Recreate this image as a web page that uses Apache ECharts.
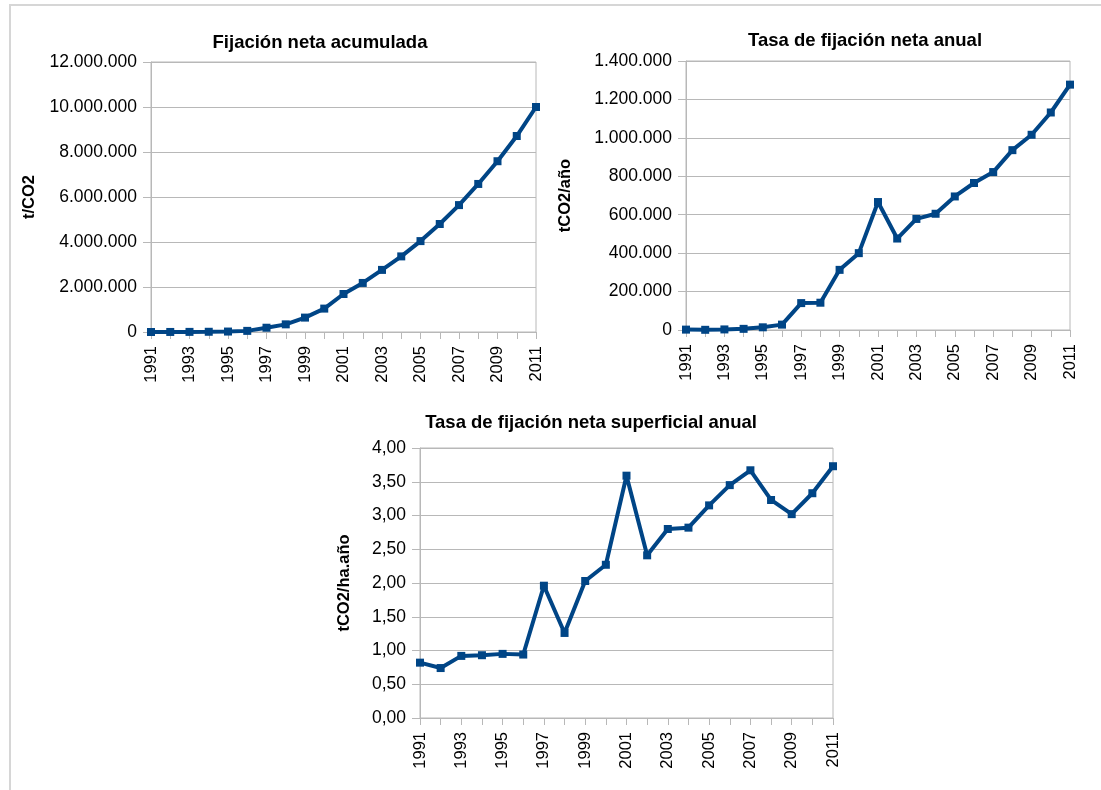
<!DOCTYPE html>
<html>
<head>
<meta charset="utf-8">
<script src="https://cdn.jsdelivr.net/npm/echarts@6/dist/echarts.min.js"></script>
<style>
  html, body { margin: 0; padding: 0; background: #fff; }
  #main { width: 1101px; height: 790px; }
</style>
</head>
<body>
<div id="main"></div>
<script>
// años
let years = ['1991', '1992', '1993', '1994', '1995', '1996', '1997', '1998', '1999', '2000',
    '2001', '2002', '2003', '2004', '2005', '2006', '2007', '2008', '2009', '2010', '2011'];

// t/CO2 acumulado
let acumulada = [0, 2000, 5000, 10000, 20000, 50000, 190000, 340000, 640000, 1040000,
    1690000, 2180000, 2760000, 3360000, 4040000, 4800000, 5640000, 6580000, 7590000, 8710000, 10000000];

// tCO2/año
let anual = [2000, 1000, 3000, 6000, 14000, 28000, 140000, 142000, 313000, 400000,
    666000, 476000, 578000, 605000, 695000, 765000, 822000, 936000, 1016000, 1132000, 1277000];

// tCO2/ha.año
let superficial = [0.82, 0.74, 0.92, 0.93, 0.95, 0.94, 1.96, 1.26, 2.03, 2.27,
    3.59, 2.41, 2.80, 2.82, 3.15, 3.45, 3.67, 3.23, 3.02, 3.33, 3.73];

let titles = ['Fijación neta acumulada', 'Tasa de fijación neta anual', 'Tasa de fijación neta superficial anual'];
let axisNames = ['t/CO2', 'tCO2/año', 'tCO2/ha.año'];

const FONT = '"Liberation Sans", Arial, sans-serif';
const BLUE = '#004586';
const GRID_COLOR = '#b8b8b8';

function miles(v) {
    return String(Math.round(v)).replace(/\B(?=(\d{3})+(?!\d))/g, '.');
}

function decimal(v) {
    return v.toFixed(2).replace('.', ',');
}

let grids = [
    { left: 151, top: 62, width: 385, height: 270 },
    { left: 686, top: 61, width: 384, height: 269 },
    { left: 420, top: 448, width: 413, height: 270 }
];

function makeX(i) {
    return {
        type: 'category',
        gridIndex: i,
        data: years,
        boundaryGap: false,
        axisLine: { lineStyle: { color: GRID_COLOR, width: 1 } },
        axisTick: { show: true, interval: 0, length: 7, lineStyle: { color: GRID_COLOR } },
        axisLabel: {
            interval: 1, rotate: 90, margin: 14,
            color: '#000', fontFamily: FONT, fontSize: 16.5
        },
        splitLine: { show: false }
    };
}

function makeY(i, max, interval, fmt, gap) {
    return {
        type: 'value',
        gridIndex: i,
        min: 0, max: max, interval: interval,
        name: axisNames[i],
        nameLocation: 'middle',
        nameRotate: 90,
        nameGap: gap,
        nameTextStyle: { color: '#000', fontFamily: FONT, fontSize: 16.5, fontWeight: 'bold' },
        axisLine: { show: true, lineStyle: { color: GRID_COLOR, width: 1 } },
        axisTick: { show: true, length: 8, lineStyle: { color: GRID_COLOR } },
        axisLabel: { margin: 14, color: '#000', fontFamily: FONT, fontSize: 17.5, formatter: fmt },
        splitLine: { show: true, lineStyle: { color: GRID_COLOR, width: 1 } }
    };
}

function makeSeries(i, data) {
    return {
        type: 'line',
        xAxisIndex: i, yAxisIndex: i,
        data: data,
        symbol: 'rect', symbolSize: 8,
        showAllSymbol: true,
        lineStyle: { color: BLUE, width: 4 },
        itemStyle: { color: BLUE },
        animation: false
    };
}

let titlePos = [[320, 43], [865, 41], [591, 423]];

let option = {
    backgroundColor: '#fff',
    animation: false,
    grid: grids.map(g => Object.assign({ show: true, borderColor: GRID_COLOR, borderWidth: 1, containLabel: false }, g)),
    xAxis: [makeX(0), makeX(1), makeX(2)],
    yAxis: [
        makeY(0, 12000000, 2000000, miles, 113),
        makeY(1, 1400000, 200000, miles, 112),
        makeY(2, 4, 0.5, decimal, 67)
    ],
    series: [makeSeries(0, acumulada), makeSeries(1, anual), makeSeries(2, superficial)],
    graphic: [
        // marco exterior
        {
            type: 'rect', silent: true, z: -1,
            shape: { x: 10, y: 5, width: 1100, height: 800 },
            style: { fill: 'none', stroke: '#d6d6d6', lineWidth: 2 }
        }
    ].concat(titles.map((t, i) => ({
        type: 'text',
        x: titlePos[i][0], y: titlePos[i][1],
        style: {
            text: t, fill: '#000',
            font: 'bold 18.5px ' + FONT,
            textAlign: 'center', textVerticalAlign: 'middle'
        }
    })))
};

let myChart = echarts.init(document.querySelector('#main'));
myChart.setOption(option);
</script>
</body>
</html>
